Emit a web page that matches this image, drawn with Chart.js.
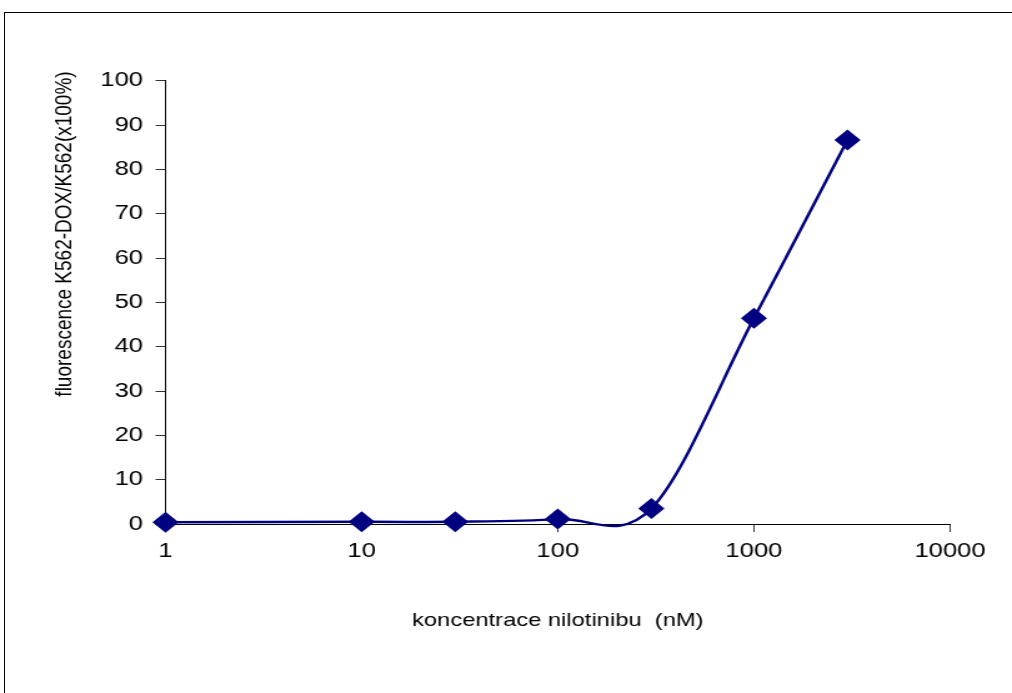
<!DOCTYPE html>
<html>
<head>
<meta charset="utf-8">
<script src="https://cdn.jsdelivr.net/npm/chart.js@4/dist/chart.umd.min.js"></script>
<style>
  html, body { margin: 0; padding: 0; background: #fff; overflow: hidden; width: 1012px; height: 693px; }
  #frame { position: absolute; left: 4px; top: 12px; width: 1100px; height: 800px; border: 1px solid #000; box-sizing: border-box; }
  /* the chart is drawn narrow and widened horizontally, like a stretched sheet figure */
  #wrap { position: absolute; left: 0; top: 0; width: 810px; height: 693px; transform: scaleX(1.24938); transform-origin: 0 0; }
  canvas { display: block; }
</style>
</head>
<body>
<div id="frame"></div>
<div id="wrap"><canvas id="chart" width="810" height="693"></canvas></div>
<script>
// nilotinib concentration (nM) and K562-DOX / K562 fluorescence ratio (x100 %)
const concentrations = [1, 10, 30, 100, 300, 1000, 3000];
const fluorescence = [0.4, 0.5, 0.5, 1.1, 3.5, 46.4, 86.6];
const xTickValues = [1, 10, 100, 1000, 10000];
const yTickValues = [0, 10, 20, 30, 40, 50, 60, 70, 80, 90, 100];
const xTitle = 'koncentrace nilotinibu  (nM)';
const yTitle = 'fluorescence K562-DOX/K562(x100%)';

const FONT = 'Liberation Sans, Arial, sans-serif';
const NAVY = '#000080';

// rotated y-axis title placed beside the value labels
const yTitlePlugin = {
  id: 'yTitle',
  afterDraw(chart) {
    const { ctx } = chart;
    ctx.save();
    ctx.translate(52, 234);
    ctx.rotate(-Math.PI / 2);
    ctx.font = '19px ' + FONT;
    ctx.fillStyle = '#000';
    ctx.textAlign = 'center';
    ctx.textBaseline = 'middle';
    ctx.fillText(yTitle, 0, 0);
    ctx.restore();
  }
};

// spreadsheet-style smoothing: Catmull-Rom control points (neighbour difference / 6)
const smoothLinePlugin = {
  id: 'smoothLine',
  beforeDatasetDraw(chart, args) {
    const meta = args.meta;
    if (!meta.dataset) return;
    meta.dataset.updateControlPoints(chart.chartArea, meta.iScale.axis);
    const pts = meta.data;
    const n = pts.length;
    for (let i = 0; i < n; i++) {
      const p = pts[i];
      const prev = pts[Math.max(i - 1, 0)];
      const next = pts[Math.min(i + 1, n - 1)];
      const dx = (next.x - prev.x) / 6;
      const dy = (next.y - prev.y) / 6;
      p.cp1x = p.x - dx; p.cp1y = p.y - dy;
      p.cp2x = p.x + dx; p.cp2y = p.y + dy;
    }
  }
};

new Chart(document.getElementById('chart'), {
  type: 'line',
  data: {
    datasets: [{
      data: concentrations.map((c, i) => ({ x: c, y: fluorescence[i] })),
      borderColor: NAVY,
      backgroundColor: NAVY,
      borderWidth: 2.5,
      pointStyle: 'rectRot',
      pointRadius: 10.5,
      pointHoverRadius: 10.5,
      pointBorderWidth: 0,
      tension: 0.4,
      clip: false,
      fill: false
    }]
  },
  options: {
    responsive: false,
    animation: false,
    devicePixelRatio: 1,
    events: [],
    layout: { padding: { left: 0, top: 80.7, right: 49.6, bottom: 0 } },
    elements: { line: { capBezierPoints: false } },
    plugins: { legend: { display: false }, tooltip: { enabled: false } },
    scales: {
      x: {
        type: 'logarithmic',
        min: xTickValues[0],
        max: xTickValues[xTickValues.length - 1],
        afterBuildTicks(axis) { axis.ticks = xTickValues.map(v => ({ value: v })); },
        afterFit(axis) { axis.height = 169; },
        ticks: {
          autoSkip: false,
          maxRotation: 0,
          padding: 7,
          color: '#000',
          font: { family: FONT, size: 20.5 },
          callback: v => String(v)
        },
        grid: { drawOnChartArea: false, drawTicks: true, tickLength: 8, color: '#333', lineWidth: 1 },
        border: { display: true, color: '#000', width: 1 },
        title: {
          display: true,
          text: xTitle,
          color: '#000',
          font: { family: FONT, size: 19 },
          padding: { top: 0, bottom: 60.6 }
        }
      },
      y: {
        type: 'linear',
        min: yTickValues[0],
        max: yTickValues[yTickValues.length - 1],
        afterBuildTicks(axis) { axis.ticks = yTickValues.map(v => ({ value: v })); },
        afterFit(axis) { axis.width = 132.5; },
        ticks: {
          padding: 10,
          color: '#000',
          font: { family: FONT, size: 20.5 }
        },
        grid: { drawOnChartArea: false, drawTicks: true, tickLength: 8, color: '#333', lineWidth: 1 },
        border: { display: true, color: '#000', width: 1 }
      }
    }
  },
  plugins: [smoothLinePlugin, yTitlePlugin]
});
</script>
</body>
</html>
